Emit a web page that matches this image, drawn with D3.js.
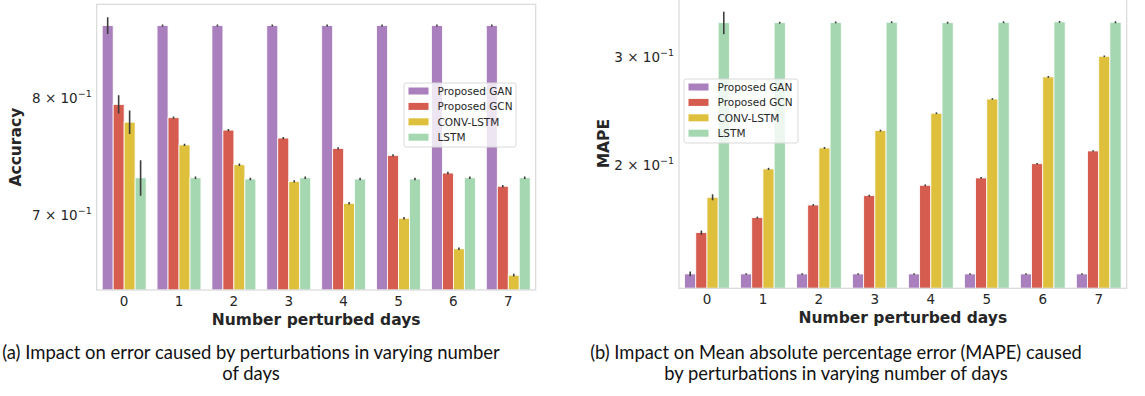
<!DOCTYPE html>
<html>
<head>
<meta charset="utf-8">
<script src="https://cdn.jsdelivr.net/npm/d3@7"></script>
<style>
  body { margin: 0; background: #fff; }
  svg { display: block; }
</style>
</head>
<body>
<svg width="1145" height="396"></svg>
<script>
// categories and series
const days = ["0", "1", "2", "3", "4", "5", "6", "7"];
const models = ["Proposed GAN", "Proposed GCN", "CONV-LSTM", "LSTM"];
const colors = ["#a97fbd", "#d55c4f", "#dfc03c", "#a5d8b1"];

// (a) accuracy, one array per model
const accGAN  = [0.870, 0.870, 0.870, 0.870, 0.870, 0.870, 0.870, 0.870];
const accGCN  = [0.795, 0.783, 0.772, 0.765, 0.756, 0.750, 0.735, 0.724];
const accCONV = [0.779, 0.759, 0.742, 0.728, 0.710, 0.698, 0.674, 0.654];
const accLSTM = [0.731, 0.731, 0.730, 0.731, 0.730, 0.730, 0.731, 0.731];
// half widths of error bars
const accErrGAN  = [0.0084, 0.001, 0.001, 0.001, 0.001, 0.001, 0.001, 0.001];
const accErrGCN  = [0.0083, 0.001, 0.001, 0.001, 0.001, 0.001, 0.001, 0.001];
const accErrCONV = [0.0105, 0.001, 0.001, 0.001, 0.001, 0.001, 0.001, 0.001];
const accErrLSTM = [0.0149, 0.001, 0.001, 0.001, 0.001, 0.001, 0.001, 0.001];

// (b) MAPE
const mapeGAN  = [0.1333, 0.1333, 0.1333, 0.1333, 0.1333, 0.1333, 0.1333, 0.1333];
const mapeGCN  = [0.1557, 0.1647, 0.1727, 0.1789, 0.1860, 0.1912, 0.2017, 0.2116];
const mapeCONV = [0.1778, 0.1978, 0.2140, 0.2284, 0.2438, 0.2572, 0.2795, 0.3020];
const mapeLSTM = [0.3426, 0.3426, 0.3430, 0.3432, 0.3426, 0.3432, 0.3437, 0.3432];
const mapeErrGAN  = [0.0012, 0.0004, 0.0004, 0.0004, 0.0004, 0.0004, 0.0004, 0.0004];
const mapeErrGCN  = [0.0012, 0.0006, 0.0006, 0.0006, 0.0006, 0.0006, 0.0006, 0.0006];
const mapeErrCONV = [0.0020, 0.0008, 0.0008, 0.0008, 0.0008, 0.0008, 0.0008, 0.0008];
const mapeErrLSTM = [0.0145, 0.0012, 0.0012, 0.0012, 0.0012, 0.0012, 0.0012, 0.0012];

const accTicks = [0.7, 0.8];
const mapeTicks = [0.2, 0.3];

const svg = d3.select("svg");
const tickFont = "'DejaVu Sans', sans-serif";

function drawPanel(opt) {
  const g = svg.append("g");
  const x = d3.scaleBand().domain(days).range([opt.left, opt.right])
    .paddingInner(0.2).paddingOuter(0.1);
  const xi = d3.scaleBand().domain(models).range([0, x.bandwidth()]);
  const y = d3.scaleLog().domain(opt.domain).range([opt.bottom, opt.top]);

  // clip so bars stay inside axes
  const clipId = "clip" + opt.id;
  svg.append("clipPath").attr("id", clipId).append("rect")
    .attr("x", opt.left).attr("y", opt.top)
    .attr("width", opt.right - opt.left).attr("height", opt.bottom - opt.top);

  const rows = [];
  models.forEach((m, k) => {
    days.forEach((d, i) => {
      rows.push({ day: d, model: m, k: k, v: opt.values[k][i], e: opt.errs[k][i] });
    });
  });

  const plot = g.append("g").attr("clip-path", `url(#${clipId})`);
  plot.selectAll("rect.bar").data(rows).enter().append("rect")
    .attr("class", "bar")
    .attr("x", d => x(d.day) + xi(d.model))
    .attr("width", xi.bandwidth())
    .attr("y", d => y(d.v))
    .attr("height", d => opt.bottom - y(d.v))
    .attr("fill", d => colors[d.k])
    .attr("stroke", "#fff")
    .attr("stroke-width", 0.8);

  plot.selectAll("line.err").data(rows).enter().append("line")
    .attr("class", "err")
    .attr("x1", d => x(d.day) + xi(d.model) + xi.bandwidth() / 2)
    .attr("x2", d => x(d.day) + xi(d.model) + xi.bandwidth() / 2)
    .attr("y1", d => y(d.v + d.e))
    .attr("y2", d => y(d.v - d.e))
    .attr("stroke", "#3d3d3d")
    .attr("stroke-width", 1.6);

  // frame
  g.append("rect")
    .attr("x", opt.left).attr("y", opt.top)
    .attr("width", opt.right - opt.left).attr("height", opt.bottom - opt.top)
    .attr("fill", "none").attr("stroke", "#d9d9d9").attr("stroke-width", 1.2);

  // x tick labels
  const xAxis = g.append("g").attr("transform", `translate(0,${opt.bottom})`)
    .call(d3.axisBottom(x).tickSize(0).tickPadding(6));
  xAxis.select(".domain").remove();
  xAxis.attr("font-family", null).attr("font-size", null);
  xAxis.selectAll("text").style("font-family", tickFont).style("font-size", "13.5px")
    .attr("fill", "#262626");

  // y tick labels as a x 10^-1
  const yt = g.append("g");
  opt.ticks.forEach(t => {
    const mant = Math.round(t * 10);
    const txt = yt.append("text")
      .attr("x", opt.left - 5).attr("y", y(t) + 4)
      .attr("text-anchor", "end")
      .style("font-family", tickFont).style("font-size", "13.5px").attr("fill", "#262626");
    txt.append("tspan").text(mant + " \u00d7 10");
    txt.append("tspan").attr("dy", -6).style("font-size", "9.5px").text("\u22121");
  });

  // axis labels
  g.append("text")
    .attr("x", (opt.left + opt.right) / 2).attr("y", opt.bottom + 35)
    .attr("text-anchor", "middle")
    .style("font-family", tickFont).style("font-weight", "bold").style("font-size", "15.5px")
    .attr("fill", "#262626")
    .text("Number perturbed days");
  g.append("text")
    .attr("transform", `translate(${opt.yLabelX},${(opt.top + opt.bottom) / 2}) rotate(-90)`)
    .attr("text-anchor", "middle")
    .style("font-family", tickFont).style("font-weight", "bold").style("font-size", "15.5px")
    .attr("fill", "#262626")
    .text(opt.yLabel);

  // legend
  const lg = g.append("g").attr("transform", `translate(${opt.legend[0]},${opt.legend[1]})`);
  lg.append("rect").attr("width", opt.legendW).attr("height", 64).attr("rx", 2.5)
    .attr("fill", "#fff").attr("fill-opacity", 0.8)
    .attr("stroke", "#d9d9d9").attr("stroke-width", 1);
  models.forEach((m, k) => {
    lg.append("rect").attr("x", 4.5).attr("y", 4.5 + k * 15.4)
      .attr("width", 20).attr("height", 7).attr("fill", colors[k]);
    lg.append("text").attr("x", 33.5).attr("y", 12 + k * 15.4)
      .style("font-family", tickFont).style("font-size", "10.5px").attr("fill", "#262626")
      .text(m);
  });
}

drawPanel({
  id: "a", left: 96.7, right: 535.7, top: 4.3, bottom: 290,
  domain: [0.643, 0.8914],
  values: [accGAN, accGCN, accCONV, accLSTM],
  errs: [accErrGAN, accErrGCN, accErrCONV, accErrLSTM],
  ticks: accTicks, yLabel: "Accuracy", yLabelX: 21,
  legend: [404, 83], legendW: 112
});

drawPanel({
  id: "b", left: 679, right: 1126.7, top: -1, bottom: 288.3,
  domain: [0.1263, 0.3745],
  values: [mapeGAN, mapeGCN, mapeCONV, mapeLSTM],
  errs: [mapeErrGAN, mapeErrGCN, mapeErrCONV, mapeErrLSTM],
  ticks: mapeTicks, yLabel: "MAPE", yLabelX: 609,
  legend: [684, 79], legendW: 114
});

// captions, sized so the first line spans the same width as in the paper
const capFont = "Lato, 'Open Sans', sans-serif";
const captions = [
  { x: 251, w: 498, lines: ["(a) Impact on error caused by perturbations in varying number", "of days"] },
  { x: 836, w: 492, lines: ["(b) Impact on Mean absolute percentage error (MAPE) caused", "by perturbations in varying number of days"] }
];
captions.forEach(c => {
  const texts = c.lines.map((l, i) => svg.append("text")
    .attr("x", c.x).attr("y", 359 + i * 20.5)
    .attr("text-anchor", "middle")
    .style("font-family", capFont).style("font-size", "16px").attr("fill", "#111")
    .text(l));
  const len = texts[0].node().getComputedTextLength();
  const fs = 16 * c.w / len;
  texts.forEach(t => t.style("font-size", fs + "px"));
});
</script>
</body>
</html>
